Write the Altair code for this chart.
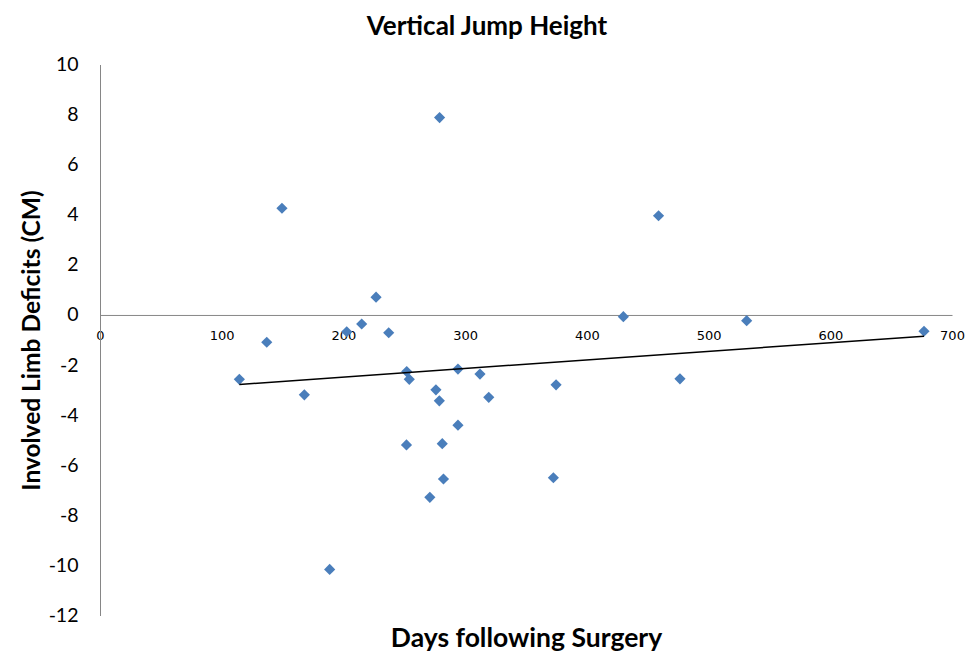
import altair as alt
import pandas as pd

days = [114.5, 137, 149.5, 167.9, 188.7, 202.7, 215, 226.8, 237.2, 252, 254.1,
        251.8, 276, 278.8, 271, 281.2, 282.2, 279, 294.1, 294.1, 312.2, 319.4,
        374.7, 372.5, 430, 458.9, 476.5, 531.3, 677]
deficits = [-2.57, -1.09, 4.26, -3.19, -10.16, -0.67, -0.36, 0.71, -0.71, -2.26,
            -2.57, -5.19, -2.99, -3.43, -7.28, -5.14, -6.55, 7.88, -2.16, -4.40,
            -2.36, -3.29, -2.79, -6.50, -0.07, 3.96, -2.55, -0.23, -0.65]
x_ticks = [0, 100, 200, 300, 400, 500, 600, 700]
y_ticks = [10, 8, 6, 4, 2, 0, -2, -4, -6, -8, -10, -12]

df = pd.DataFrame({"days": days, "deficit": deficits})

W, H = 852, 551
AXIS_GRAY = "#868686"

xscale = alt.Scale(domain=[0, 700], nice=False, zero=False)
yscale = alt.Scale(domain=[-12, 10], nice=False, zero=False)

xaxis = alt.Axis(
    values=x_ticks, offset=-(H * 12 / 22), ticks=False, grid=False,
    domainColor=AXIS_GRAY, domainWidth=1,
    labelFont="DejaVu Sans", labelFontSize=13, labelColor="#000000",
    labelPadding=15, labelFlush=False,
    labelExpr="'' + datum.value",
    title="Days following Surgery", titleFont="Lato", titleFontSize=26.5,
    titleFontWeight="bold", titleColor="#000000", titleBaseline="middle",
    titleY=324,
)
yaxis = alt.Axis(
    values=y_ticks, ticks=False, grid=False,
    domainColor=AXIS_GRAY, domainWidth=1,
    labelFont="Lato", labelFontSize=19.5, labelColor="#000000",
    labelPadding=22, labelFlush=False,
    labelExpr="'' + datum.value",
    title="Involved Limb Deficits (CM)", titleFont="Lato", titleFontSize=24.5,
    titleFontWeight="bold", titleColor="#000000", titleBaseline="middle",
    titleX=-68,
)

base = alt.Chart(df)
points = base.mark_point(shape="diamond", filled=True, size=125,
                         color="#4A7EBB", opacity=1).encode(
    x=alt.X("days:Q", scale=xscale, axis=xaxis),
    y=alt.Y("deficit:Q", scale=yscale, axis=yaxis),
)
trend = base.transform_regression("days", "deficit").mark_line(
    color="#000000", strokeWidth=1.5).encode(
    x=alt.X("days:Q", scale=xscale),
    y=alt.Y("deficit:Q", scale=yscale),
)

chart = alt.layer(points, trend).properties(
    width=W, height=H,
    title=alt.TitleParams("Vertical Jump Height", font="Lato", fontSize=26,
                          fontWeight="bold", color="#000000", frame="group",
                          anchor="middle", dx=-39, dy=8, offset=2,
                          baseline="alphabetic"),
    autosize=alt.AutoSizeParams(type="none"),
    padding={"left": 92, "top": 56.5, "right": 15, "bottom": 45},
    background="white",
).configure_view(stroke=None)

chart.save("out.html", embed_options={"renderer": "svg", "actions": False})
